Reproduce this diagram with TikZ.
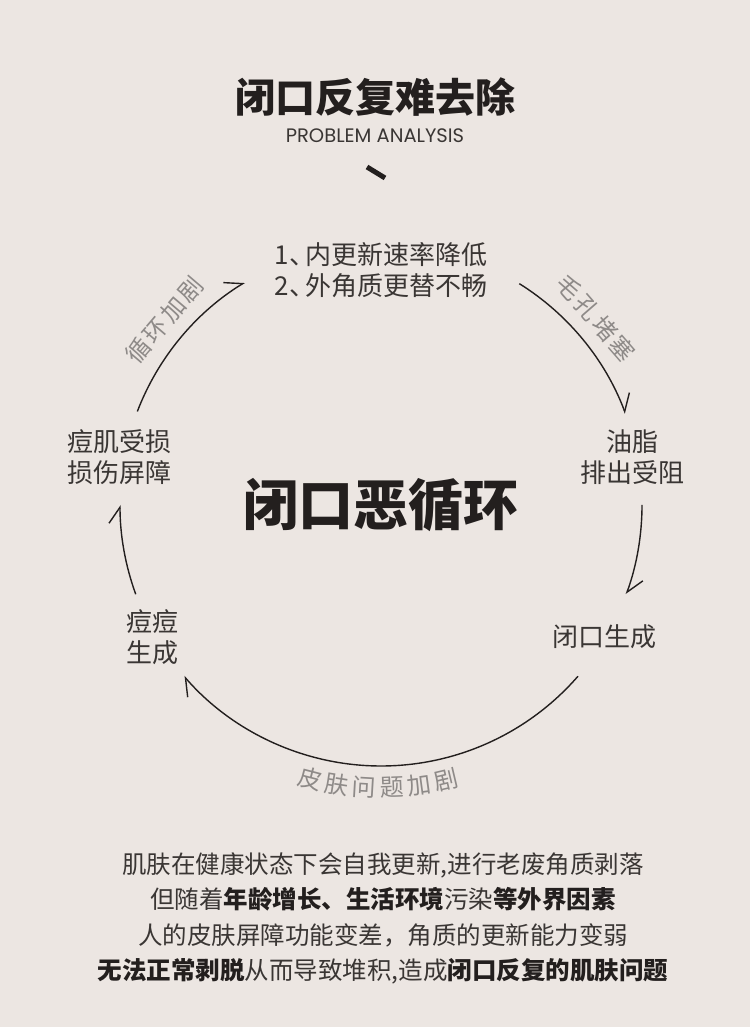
\documentclass[tikz,border=0pt]{standalone}
\usepackage{fontspec}
\setmainfont{Noto Sans CJK SC}
\newfontfamily\latinfont{Poppins}
\usepackage{xcolor}
\usepackage{tikz}
\usetikzlibrary{arrows.meta,calc}
\definecolor{paper}{HTML}{ECE6E2}
\definecolor{ink}{HTML}{231F1E}
\definecolor{softink}{HTML}{3A3634}
\definecolor{labelgray}{HTML}{8E8A88}

\begin{document}
\begin{tikzpicture}[
      x=1pt, y=1pt,
      every node/.style={text=softink, inner sep=0pt},
      stage/.style={font=\fontsize{26}{31}\selectfont, align=center},
      arclabel/.style={text=labelgray, font=\fontsize{24}{24}\selectfont\addfontfeature{LetterSpace=12}},
      para/.style={font=\fontsize{24.5}{35.5}\selectfont, align=center},
      cyc/.style={draw=ink, line width=1.4pt,
                  -{Straight Barb[harpoon, length=16pt, width=22pt, line width=1.4pt]}}
  ]

    % --- Background ---
    \fill[paper] (0,0) rectangle (750,1027);
    \useasboundingbox (0,0) rectangle (750,1027);

    % --- Heading ---
    \node[font=\fontsize{40}{40}\selectfont\bfseries, text=ink] (title) at (375,930)
          {闭口反复难去除};
    \node[font=\latinfont\fontsize{19.5}{19.5}\selectfont] (subtitle) at (375,891)
          {PROBLEM ANALYSIS};
    \draw[ink, line width=5pt] (367,860) -- (385,849);

    % --- Cycle centre ---
    \coordinate (O) at (381,522);
    \node[font=\fontsize{55}{55}\selectfont\bfseries, text=ink] (core) at (O)
          {闭口恶循环};

    % --- Stages ---
    \node[stage] (renew)   at (381,757)
          {1、\kern-0.4em 内更新速率降低\\2、\kern-0.4em 外角质更替不畅};
    \node[stage] (sebum)   at (632,570) {油脂\\排出受阻};
    \node[stage] (closed)  at (604,390) {闭口生成};
    \node[stage] (acne)    at (152,390) {痘痘\\生成};
    \node[stage] (barrier) at (119,570) {痘肌受损\\损伤屏障};

    % arc end points on the circle
    \coordinate (a1) at ($(O)+(159:261pt)$);
    \coordinate (a2) at ($(O)+(58:261pt)$);
    \coordinate (a3) at ($(O)+(0:261pt)$);
    \coordinate (a4) at ($(O)+(-41:261pt)$);
    \coordinate (a5) at ($(O)+(200:261pt)$);

    \draw[cyc] (a1) arc[start angle=159, end angle=121.5, radius=261pt];
    \draw[cyc] (a2) arc[start angle=58, end angle=20.5, radius=261pt];
    \draw[cyc] (a3) arc[start angle=0, end angle=-20, radius=261pt];
    \draw[cyc] (a4) arc[start angle=-41, end angle=-139, radius=261pt];
    \draw[cyc] (a5) arc[start angle=200, end angle=180, radius=261pt];

    % --- Arc labels ---
    \node[arclabel, rotate=49.5] (worse) at ($(O)+(139.5:285pt)$) {循环加剧};
    \node[arclabel, rotate=-49] (pore) at ($(O)+(41:285pt)$) {毛孔堵塞};
    \foreach \ch [count=\i] in {皮,肤,问,题,加,剧} {
      \pgfmathsetmacro{\ang}{-104.5+5.56*(\i-1)}
      \node[arclabel, rotate=\ang+90] (skin\i) at ($(O)+(\ang:283pt)$) {\ch};
    }

    % --- Explanation ---
    \node[para] (story) at (383,108.5)
          {肌肤在健康状态下会自我更新,进行老废角质剥落\\
           但随着{\bfseries\color{ink}年龄增长、生活环境}污染{\bfseries\color{ink}等外界因素}\\
           人的皮肤屏障功能变差，角质的更新能力变弱\\
           {\bfseries\color{ink}无法正常剥脱}从而导致堆积,造成{\bfseries\color{ink}闭口反复的肌肤问题}};

  \end{tikzpicture}
\end{document}
